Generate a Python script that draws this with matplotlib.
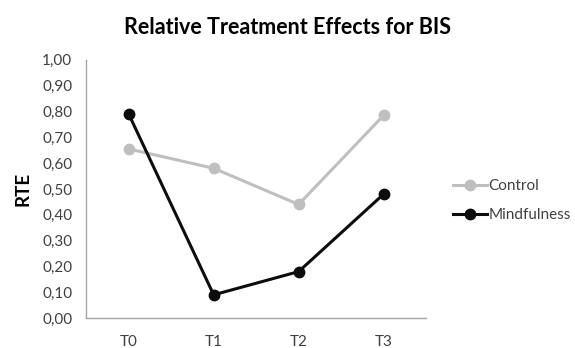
import matplotlib.pyplot as plt
from matplotlib.ticker import FuncFormatter

# Data
timepoints = ['T0', 'T1', 'T2', 'T3']
control = [0.655, 0.58, 0.44, 0.785]
mindfulness = [0.79, 0.09, 0.18, 0.48]

plt.rcParams['font.family'] = ['Lato', 'DejaVu Sans']

fig = plt.figure(figsize=(5.75, 3.48), dpi=100)
ax = fig.add_axes([0.15, 0.086, 0.591, 0.742])

x = range(len(timepoints))
ax.plot(x, control, color='#bfbfbf', lw=2.2, marker='o', ms=7.5, label='Control')
ax.plot(x, mindfulness, color='#0d0d0d', lw=2.2, marker='o', ms=7.5, label='Mindfulness')

ax.set_xlim(-0.5, 3.5)
ax.set_ylim(0, 1.0)
ax.set_xticks(list(x))
ax.set_xticklabels(timepoints)
ax.set_yticks([i / 10 for i in range(11)])
ax.yaxis.set_major_formatter(FuncFormatter(lambda v, p: f'{v:.2f}'.replace('.', ',')))
ax.tick_params(length=0, labelsize=11, colors='#404040', pad=10)
ax.tick_params(axis='x', pad=12)

for s in ['top', 'right']:
    ax.spines[s].set_visible(False)
for s in ['left', 'bottom']:
    ax.spines[s].set_color('#a6a6a6')
    ax.spines[s].set_linewidth(1)

ax.set_ylabel('RTE', fontsize=13.5, fontweight='bold', labelpad=8)
fig.suptitle('Relative Treatment Effects for BIS', x=0.5, y=0.95, fontsize=15.5, fontweight='bold')

ax.legend(loc='center left', bbox_to_anchor=(1.04, 0.455), frameon=False, fontsize=11,
          handlelength=2.2, handletextpad=0.1, labelspacing=1.0, labelcolor='#404040')

fig.savefig('out.png', dpi=100)
